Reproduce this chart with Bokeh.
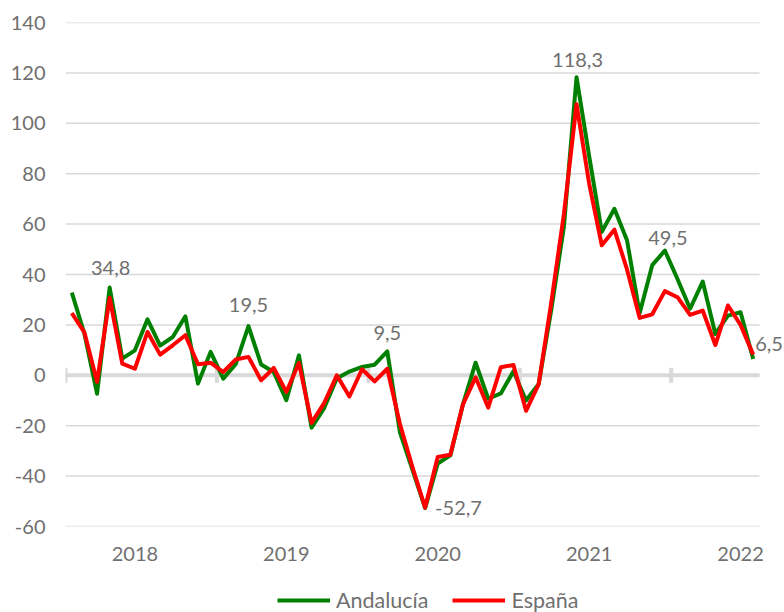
import math
import pandas as pd
from bokeh.plotting import figure
from bokeh.layouts import column
from bokeh.models import Range1d, FixedTicker, Label, Legend, LegendItem
from bokeh.embed import file_html
from bokeh.resources import INLINE

# ---------------- data ----------------
months = list(pd.date_range("2018-01-01", periods=55, freq="MS").strftime("%Y-%m"))

andalucia = [32.8, 16.5, -7.3, 34.8, 6.6, 9.9, 22.2, 11.8, 15.2, 23.4,
             -3.3, 9.3, -1.3, 4.5, 19.5, 4.3, 1.3, -9.9, 7.9, -20.8,
             -13.0, -1.3, 1.5, 3.3, 4.2, 9.5, -22.5, -37.5, -52.7, -35.0,
             -31.8, -11.5, 5.0, -9.3, -7.2, 1.6, -10.0, -3.4, 26.0, 59.0,
             118.3, 87.0, 56.9, 66.1, 53.6, 24.6, 43.7, 49.5, 38.2, 26.4,
             37.2, 16.4, 23.7, 25.0, 6.5]

espana = [24.7, 17.0, -2.6, 30.8, 4.6, 2.6, 17.2, 8.2, 11.9, 15.9,
          4.4, 5.0, 1.3, 6.3, 7.3, -2.0, 2.9, -6.6, 4.9, -18.9,
          -11.0, 0.0, -8.4, 2.4, -2.4, 2.6, -19.2, -36.5, -52.5, -32.4,
          -31.5, -11.5, -0.8, -12.8, 3.2, 4.1, -14.1, -3.5, 29.0, 64.0,
          107.6, 76.1, 51.6, 57.8, 42.0, 22.8, 24.2, 33.4, 31.0, 24.0,
          25.7, 12.0, 27.7, 20.0, 8.2]

years = ["2018", "2019", "2020", "2021", "2022"]
y_ticks = [-60, -40, -20, 0, 20, 40, 60, 80, 100, 120, 140]
series_names = ["Andalucía", "España"]

# labelled points of the Andalucía series: (index, x_offset px, y_offset px, align)
label_specs = [(3, 1, 20, "center"), (14, 0, 21, "center"), (25, 0, 18, "center"),
               (28, 10, 0, "left"), (40, 1, 17, "center"), (47, 3, 13, "center"),
               (54, 2, 15, "left")]

# ---------------- styles / layout ----------------
FONT = "Lato"
TXT = "#707070"
GRID = "#d9d9d9"
GREEN = "#008000"
RED = "#ff0000"

W = 784
H_MAIN, H_LEG = 580, 32
LEFT, TOP, BOTTOM = 65, 22, 54
PLOT_W = 694                      # width of the category area
n = len(months)
px_per = PLOT_W / n
x_end = n + (W - LEFT - PLOT_W) / px_per   # frame reaches the right edge (room for labels)

x = [i + 0.5 for i in range(n)]
year_label_pos = [months.index(y + "-06") + 0.5 for y in years]
year_bounds = [i for i, m in enumerate(months) if m.endswith("-01")]

p = figure(width=W, height=H_MAIN,
           x_range=Range1d(0, x_end), y_range=Range1d(y_ticks[0], y_ticks[-1]),
           output_backend="svg", toolbar_location=None,
           min_border_left=LEFT, min_border_right=0, min_border_top=TOP,
           min_border_bottom=BOTTOM)
p.outline_line_color = None
p.background_fill_color = "white"
p.border_fill_color = "white"

# axes
p.yaxis.ticker = FixedTicker(ticks=y_ticks)
p.yaxis.major_label_overrides = {t: str(t) for t in y_ticks}
p.yaxis.axis_line_color = None
p.yaxis.major_tick_line_color = None
p.yaxis.minor_tick_line_color = None
p.yaxis.major_tick_out = 0
p.yaxis.major_label_standoff = 20
p.yaxis.major_label_text_font = FONT
p.yaxis.major_label_text_font_size = "20px"
p.yaxis.major_label_text_color = TXT

p.xaxis.ticker = FixedTicker(ticks=year_label_pos)
p.xaxis.major_label_overrides = {pos: y for pos, y in zip(year_label_pos, years)}
p.xaxis.axis_line_color = None
p.xaxis.major_tick_line_color = None
p.xaxis.minor_tick_line_color = None
p.xaxis.major_tick_out = 0
p.xaxis.major_label_standoff = 20
p.xaxis.major_label_text_font = FONT
p.xaxis.major_label_text_font_size = "20px"
p.xaxis.major_label_text_color = TXT

p.xgrid.grid_line_color = None
p.ygrid.grid_line_color = None

# horizontal gridlines across the category area only
p.segment(x0=[0] * len(y_ticks), x1=[n] * len(y_ticks), y0=y_ticks, y1=y_ticks,
          line_color=GRID, line_width=1.5)
# zero axis line with year-boundary tick marks
p.segment(x0=[0], x1=[n], y0=[0], y1=[0], line_color=GRID, line_width=4)
p.scatter(x=year_bounds, y=[0] * len(year_bounds), marker="dash", angle=math.pi / 2,
          size=15, line_color=GRID, line_width=4)

# series
p.line(x, andalucia, line_color=GREEN, line_width=4, line_join="round")
p.line(x, espana, line_color=RED, line_width=4, line_join="round")

# data labels
for idx, dx, dy, align in label_specs:
    txt = f"{andalucia[idx]:.1f}".replace(".", ",")
    p.add_layout(Label(x=x[idx], y=andalucia[idx], text=txt, x_offset=dx, y_offset=dy,
                       text_align=align, text_baseline="middle", text_font=FONT,
                       text_font_size="20px", text_color=TXT))

# ---------------- legend strip (frame is aligned with the main frame) ----------------
pl = figure(width=W, height=H_LEG, x_range=Range1d(0, x_end), y_range=Range1d(1000, 1001),
            output_backend="svg", toolbar_location=None,
            x_axis_location=None, y_axis_location=None,
            min_border_left=LEFT, min_border_right=0, min_border_top=0, min_border_bottom=0)
pl.outline_line_color = None
pl.xgrid.visible = False
pl.ygrid.visible = False
pl.background_fill_color = "white"
pl.border_fill_color = "white"
# same series, drawn outside this strip's visible range: only their legend glyphs show
lg_and = pl.line(x, andalucia, line_color=GREEN, line_width=4)
lg_esp = pl.line(x, espana, line_color=RED, line_width=4)
legend = Legend(items=[LegendItem(label=series_names[0], renderers=[lg_and]),
                       LegendItem(label=series_names[1], renderers=[lg_esp])],
                orientation="horizontal", location=(277 - LEFT, -1),
                glyph_width=53, glyph_height=20, label_standoff=6, spacing=24,
                padding=0, margin=0, border_line_color=None, background_fill_alpha=0,
                label_text_font=FONT, label_text_font_size="21.5px", label_text_color=TXT)
pl.add_layout(legend)

layout = column(p, pl, spacing=0)
open("out.html", "w").write(file_html(layout, INLINE))
